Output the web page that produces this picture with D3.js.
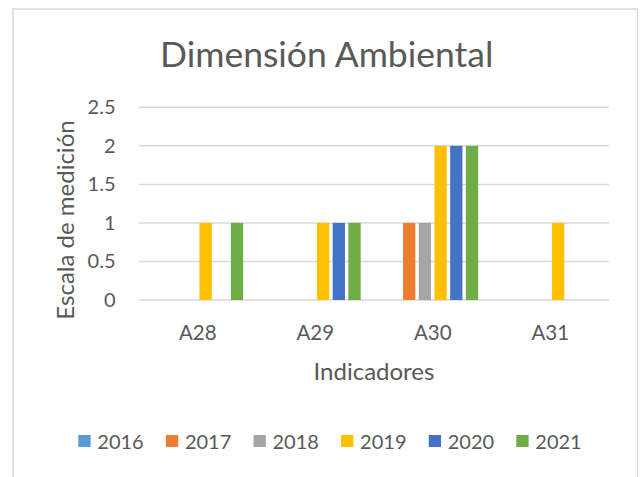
<!DOCTYPE html>
<html>
<head>
<meta charset="utf-8">
<script src="https://cdn.jsdelivr.net/npm/d3@7"></script>
<style>
  html, body { margin: 0; padding: 0; background: #fff; }
  svg { display: block; }
  text { font-family: Lato, "Open Sans", sans-serif; fill: #595959; }
</style>
</head>
<body>
<svg id="chart" width="643" height="477"></svg>
<script>
const categories = ["A28", "A29", "A30", "A31"];
const seriesNames = ["2016", "2017", "2018", "2019", "2020", "2021"];
const s2016 = [0, 0, 0, 0];
const s2017 = [0, 0, 1, 0];
const s2018 = [0, 0, 1, 0];
const s2019 = [1, 1, 2, 1];
const s2020 = [0, 1, 2, 0];
const s2021 = [1, 1, 2, 0];
const seriesValues = [s2016, s2017, s2018, s2019, s2020, s2021];
const colors = ["#5B9BD5", "#ED7D31", "#A5A5A5", "#FFC000", "#4472C4", "#70AD47"];
const yTicks = [0, 0.5, 1, 1.5, 2, 2.5];
const chartTitle = "Dimensión Ambiental";
const xTitle = "Indicadores";
const yTitle = "Escala de medición";

const svg = d3.select("#chart");

// outer frame
svg.append("rect")
  .attr("x", 13).attr("y", 9).attr("width", 624.5).attr("height", 520)
  .attr("fill", "none").attr("stroke", "#d9d9d9").attr("stroke-width", 1.5);

const plot = { left: 139, right: 609, top: 107.3, bottom: 300 };

const x0 = d3.scaleBand().domain(categories).range([plot.left, plot.right]).paddingInner(0).paddingOuter(0);
const x1 = d3.scaleBand().domain(seriesNames).range([0, x0.bandwidth()]).paddingInner(0.217).paddingOuter(0.85);
const y = d3.scaleLinear().domain([0, 2.5]).range([plot.bottom, plot.top]);

// gridlines
svg.append("g").selectAll("line").data(yTicks).join("line")
  .attr("x1", plot.left).attr("x2", plot.right)
  .attr("y1", d => y(d)).attr("y2", d => y(d))
  .attr("stroke", "#d9d9d9").attr("stroke-width", 1.5);

// y tick labels
const yAxis = d3.axisLeft(y).tickValues(yTicks).tickSize(0).tickPadding(0).tickFormat(d3.format("~g"));
const gy = svg.append("g").attr("transform", `translate(115.5,0)`).call(yAxis);
gy.select(".domain").remove();
gy.selectAll("text").attr("font-size", 20).attr("fill", "#595959").attr("font-family", "Lato, 'Open Sans', sans-serif");

// bars
const data = [];
categories.forEach((c, i) => seriesNames.forEach((s, j) => data.push({ c, s, v: seriesValues[j][i], color: colors[j] })));
svg.append("g").selectAll("rect").data(data).join("rect")
  .attr("x", d => x0(d.c) + x1(d.s))
  .attr("width", x1.bandwidth())
  .attr("y", d => y(d.v))
  .attr("height", d => y(0) - y(d.v))
  .attr("fill", d => d.color);

// x labels
const xAxis = d3.axisBottom(x0).tickSize(0).tickPadding(0);
const gx = svg.append("g").attr("transform", `translate(0,${plot.bottom})`).call(xAxis);
gx.select(".domain").remove();
gx.selectAll("text").attr("font-size", 20.5).attr("fill", "#595959").attr("dy", null).attr("y", 40.3)
  .attr("font-family", "Lato, 'Open Sans', sans-serif");

// titles
svg.append("text").attr("x", 326.7).attr("y", 67).attr("text-anchor", "middle")
  .attr("font-size", 35.5).text(chartTitle);
svg.append("text").attr("x", (plot.left + plot.right) / 2).attr("y", 379.5).attr("text-anchor", "middle")
  .attr("font-size", 24).text(xTitle);
svg.append("text").attr("transform", "translate(73.5,220) rotate(-90)").attr("text-anchor", "middle")
  .attr("font-size", 24).text(yTitle);

// legend
const legend = svg.append("g").selectAll("g").data(seriesNames).join("g")
  .attr("transform", (d, i) => `translate(${78.3 + i * 87.6},0)`);
legend.append("rect").attr("x", 0).attr("y", 435).attr("width", 12.3).attr("height", 12)
  .attr("fill", (d, i) => colors[i]);
legend.append("text").attr("x", 19).attr("y", 448.5).attr("font-size", 20).text(d => d);
</script>
</body>
</html>
